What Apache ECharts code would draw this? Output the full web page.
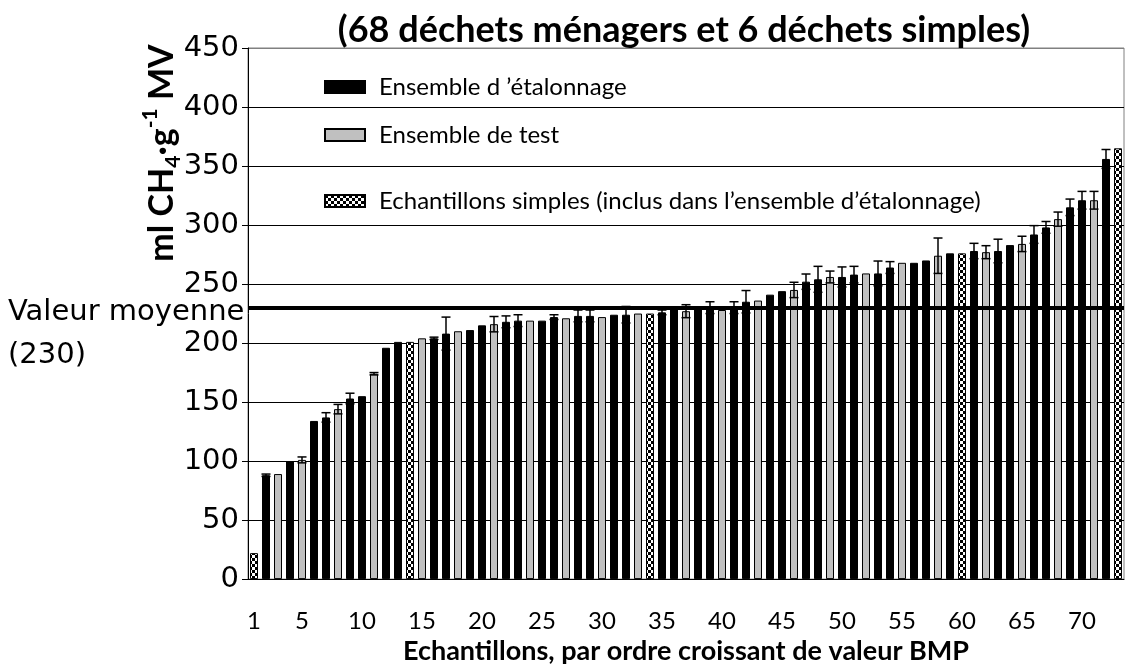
<!DOCTYPE html>
<html>
<head>
<meta charset="utf-8">
<script src="https://cdn.jsdelivr.net/npm/echarts@6/dist/echarts.min.js"></script>
<style>
  html, body { margin: 0; padding: 0; background: #fff; }
  #chart { width: 1128px; height: 670px; }
</style>
</head>
<body>
<div id="chart"></div>
<script>
// echantillons 1..73, tries par BMP croissant
const samples = Array.from({ length: 73 }, (_, i) => String(i + 1));
const shownTicks = ['1', '5', '10', '15', '20', '25', '30', '35', '40', '45', '50', '55', '60', '65', '70'];

// E = ensemble d'étalonnage, T = ensemble de test, S = échantillon simple
const groups = [
  'S', 'E', 'T', 'E', 'T', 'E', 'E', 'T', 'E', 'E',
  'T', 'E', 'E', 'S', 'T', 'E', 'E', 'T', 'E', 'E',
  'T', 'E', 'E', 'T', 'E', 'E', 'T', 'E', 'E', 'T',
  'E', 'E', 'T', 'S', 'E', 'E', 'T', 'E', 'E', 'T',
  'E', 'E', 'T', 'E', 'E', 'T', 'E', 'E', 'T', 'E',
  'E', 'T', 'E', 'E', 'T', 'E', 'E', 'T', 'E', 'S',
  'E', 'T', 'E', 'E', 'T', 'E', 'E', 'T', 'E', 'E',
  'T', 'E', 'S'
];

// BMP (ml CH4/g MV)
const values = [
  22, 88, 89, 100, 101, 134, 137, 144, 153, 155,
  174, 196, 201, 201, 204, 204, 208, 210, 211, 215,
  216, 218, 219, 219, 219, 222, 221, 223, 223, 222,
  224, 224, 225, 225, 226, 229, 227, 229, 230, 228,
  230, 235, 236, 241, 244, 245, 252, 254, 256, 256,
  258, 259, 259, 264, 268, 268, 270, 274, 276, 276,
  278, 277, 278, 283, 284, 292, 298, 305, 315, 321,
  321, 356, 365
];

// écart-type (0 = pas de barre d'erreur)
const errors = [
  0, 1, 0, 0, 2.5, 0, 4, 4, 4.5, 0,
  1, 0, 0, 0, 0, 1, 14, 0, 0, 0,
  6.5, 5, 5, 0, 0, 2, 0, 5, 5, 0,
  0, 7, 0, 0, 2, 0, 5.5, 0, 5, 0,
  5, 9.5, 0, 0, 0, 6.5, 6.5, 11, 5, 8.5,
  7, 0, 10.5, 5, 0, 0, 0, 15, 0, 0,
  6.5, 5.5, 10, 0, 6.5, 7.5, 5, 6, 7, 7.5,
  7.5, 8, 0
];

const meanValue = 230;

const names = {
  E: 'Ensemble d \u2019étalonnage',
  T: 'Ensemble de test',
  S: 'Echantillons simples (inclus dans l\u2019ensemble d\u2019étalonnage)'
};

// motif damier pour les échantillons simples
const checker = document.createElement('canvas');
checker.width = 6;
checker.height = 6;
const cctx = checker.getContext('2d');
cctx.fillStyle = '#fff';
cctx.fillRect(0, 0, 6, 6);
cctx.fillStyle = '#000';
cctx.fillRect(0, 0, 3, 3);
cctx.fillRect(3, 3, 3, 3);

const pick = (type) => values.map((v, i) => (groups[i] === type ? v : '-'));

const chart = echarts.init(document.getElementById('chart'));

const barBase = {
  type: 'bar',
  barWidth: 8,
  barGap: '-100%',
  animation: false,
  emphasis: { disabled: true }
};

const legendBase = {
  orient: 'vertical',
  left: 319,
  icon: 'rect',
  itemWidth: 40,
  itemHeight: 12,
  selectedMode: false,
  textStyle: { fontFamily: 'Lato', fontSize: 24, color: '#000', padding: [0, 0, 0, 9] }
};

const option = {
  backgroundColor: '#fff',
  animation: false,
  grid: {
    left: 248, right: 4, top: 48, bottom: 88,
    show: true, borderColor: '#808080', borderWidth: 1
  },
  legend: [
    Object.assign({ top: 70, data: [names.E] }, legendBase),
    Object.assign({ top: 118, data: [names.T] }, legendBase),
    Object.assign({ top: 184, data: [names.S] }, legendBase)
  ],
  xAxis: {
    type: 'category',
    data: samples,
    axisLine: { lineStyle: { color: '#000', width: 1 } },
    axisTick: { interval: 0, length: 6, lineStyle: { color: '#000' } },
    axisLabel: {
      interval: (idx, val) => shownTicks.includes(val),
      margin: 30,
      fontFamily: 'Lato',
      fontSize: 24,
      color: '#000'
    },
    name: 'Echantillons, par ordre croissant de valeur BMP',
    nameLocation: 'middle',
    nameGap: 55,
    nameTextStyle: { fontFamily: 'Lato', fontWeight: 'bold', fontSize: 27, color: '#000' }
  },
  yAxis: {
    type: 'value',
    min: 0,
    max: 450,
    interval: 50,
    axisLine: { show: true, lineStyle: { color: '#000', width: 1 } },
    axisTick: { show: true, length: 6, lineStyle: { color: '#000' } },
    axisLabel: { fontFamily: 'DejaVu Sans', fontSize: 29, color: '#000', margin: 9 },
    splitLine: {
      lineStyle: {
        color: ['#000', '#000', '#000', '#000', '#000', '#000', '#000', '#000', '#000', '#808080'],
        width: 1
      }
    }
  },
  series: [
    Object.assign({
      name: names.E,
      data: pick('E'),
      itemStyle: { color: '#000', borderColor: '#000', borderWidth: 1 }
    }, barBase),
    Object.assign({
      name: names.T,
      data: pick('T'),
      itemStyle: { color: '#c0c0c0', borderColor: '#000', borderWidth: 1 }
    }, barBase),
    Object.assign({
      name: names.S,
      data: pick('S'),
      itemStyle: { color: { image: checker, repeat: 'repeat' }, borderColor: '#000', borderWidth: 1 }
    }, barBase),
    {
      // barres d'erreur + valeur moyenne
      type: 'custom',
      z: 5,
      silent: true,
      data: values.map((v, i) => [i, v, errors[i]]),
      encode: { x: 0, y: 1 },
      renderItem: (params, api) => {
        const e = api.value(2);
        if (!e) return null;
        const i = api.value(0);
        const v = api.value(1);
        const top = api.coord([i, v + e]);
        const bot = api.coord([i, v - e]);
        const hw = 4.5;
        const style = { stroke: '#000', lineWidth: 1.5 };
        return {
          type: 'group',
          children: [
            { type: 'line', shape: { x1: top[0], y1: top[1], x2: bot[0], y2: bot[1] }, style },
            { type: 'line', shape: { x1: top[0] - hw, y1: top[1], x2: top[0] + hw, y2: top[1] }, style },
            { type: 'line', shape: { x1: bot[0] - hw, y1: bot[1], x2: bot[0] + hw, y2: bot[1] }, style }
          ]
        };
      },
      markLine: {
        silent: true,
        symbol: 'none',
        label: { show: false },
        lineStyle: { color: '#000', width: 4, type: 'solid' },
        data: [{ yAxis: meanValue }]
      }
    }
  ],
  graphic: [
    {
      type: 'text',
      x: 684,
      y: 30,
      style: {
        text: '(68 déchets ménagers et 6 déchets simples)',
        fontFamily: 'Lato',
        fontWeight: 'bold',
        fontSize: 36,
        fill: '#000',
        textAlign: 'center',
        textVerticalAlign: 'middle'
      }
    },
    {
      type: 'text',
      x: 162,
      y: 153,
      rotation: Math.PI / 2,
      style: {
        text: '{a|ml CH}{sub|4}{a|·g}{sup|-1}{a| MV}',
        textAlign: 'center',
        textVerticalAlign: 'middle',
        rich: {
          a: { fontFamily: 'Lato', fontWeight: 'bold', fontSize: 34, fill: '#000', lineHeight: 44 },
          sub: { fontFamily: 'Lato', fontWeight: 'bold', fontSize: 21, fill: '#000', verticalAlign: 'bottom', lineHeight: 42 },
          sup: { fontFamily: 'Lato', fontWeight: 'bold', fontSize: 21, fill: '#000', verticalAlign: 'top', lineHeight: 24 }
        }
      }
    },
    {
      type: 'text',
      x: 8,
      y: 312,
      style: {
        text: 'Valeur moyenne',
        fontFamily: 'DejaVu Sans',
        fontSize: 29,
        fill: '#000',
        textVerticalAlign: 'middle'
      }
    },
    {
      type: 'text',
      x: 8,
      y: 355,
      style: {
        text: '(230)',
        fontFamily: 'DejaVu Sans',
        fontSize: 29,
        fill: '#000',
        textVerticalAlign: 'middle'
      }
    }
  ]
};

chart.setOption(option);
</script>
</body>
</html>
